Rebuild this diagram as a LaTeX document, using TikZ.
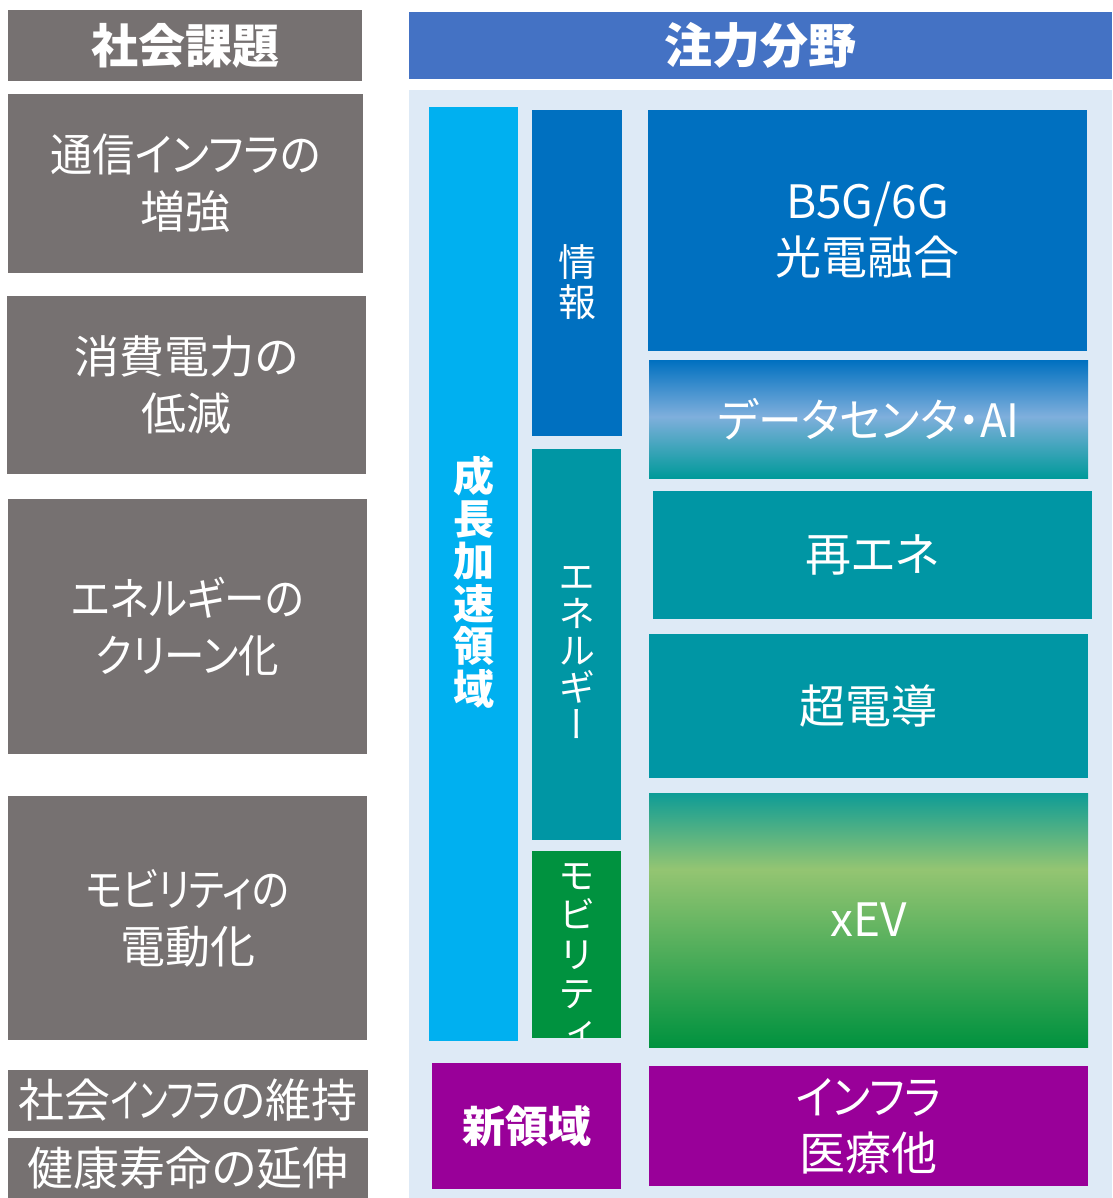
\documentclass[tikz,border=0pt]{standalone}
\usepackage{fontspec}
\usepackage{graphicx}
\usetikzlibrary{fit}
\newfontfamily\jp[RawFeature=+palt]{Noto Sans CJK JP}
\newfontfamily\jpv[RawFeature=+vert]{Noto Sans CJK JP}
\newcommand{\sx}[2]{\scalebox{#1}[1]{#2}}
\definecolor{grayc}{HTML}{767171}
\definecolor{headblue}{HTML}{4472C4}
\definecolor{panel}{HTML}{DEEAF6}
\definecolor{cyanc}{HTML}{00B0F0}
\definecolor{bluec}{HTML}{0070C0}
\definecolor{tealc}{HTML}{0096A4}
\definecolor{greenc}{HTML}{00923F}
\definecolor{purplec}{HTML}{990099}
\definecolor{dcmid}{HTML}{7FAFDC}
\definecolor{dcbot}{HTML}{009A9A}
\definecolor{evtop}{HTML}{0E9C96}
\definecolor{evmid}{HTML}{94C572}
\pgfdeclareverticalshading{dcshade}{100bp}{color(0bp)=(dcbot); color(25bp)=(dcbot); color(51bp)=(dcmid); color(75bp)=(bluec); color(100bp)=(bluec)}
\pgfdeclareverticalshading{evshade}{100bp}{color(0bp)=(greenc); color(25bp)=(greenc); color(60bp)=(evmid); color(75bp)=(evtop); color(100bp)=(evtop)}
\tikzset{
  box/.style={inner sep=0pt, outer sep=0pt, draw=none, text=white, align=center},
  gbox/.style={box, fill=grayc},
  txt/.style={text=white, align=center, inner sep=0pt, font=\jp\fontsize{45}{57}\selectfont},
  btxt/.style={text=white, align=center, inner sep=0pt, font=\jp\bfseries\fontsize{47}{52}\selectfont},
  vtxt/.style={text=white, align=center, inner sep=0pt, font=\jpv\fontsize{37}{37}\selectfont},
}
\begin{document}
\begin{tikzpicture}[x=1pt,y=-1pt]
\useasboundingbox (0,0) rectangle (1112,1198);
% left column
\node[gbox, fit={(8,10)(362,81)}] (h1) {};
\node[btxt] (h1t) at (h1) {社会課題};
\node[gbox, fit={(8,94)(363,273)}] (l1) {};
\node[txt] (l1t) at (l1) {\sx{0.94}{通信インフラの}\\増強};
\node[gbox, fit={(7,296)(366,474)}] (l2) {};
\node[txt] (l2t) at (l2) {消費電力の\\低減};
\node[gbox, fit={(8,499)(367,754)}] (l3) {};
\node[txt] (l3t) at (l3) {\sx{0.9}{エネルギーの}\\\sx{0.9}{クリーン化}};
\node[gbox, fit={(8,796)(367,1040)}] (l4) {};
\node[txt] (l4t) at (l4) {\sx{0.86}{モビリティの}\\電動化};
\node[gbox, fit={(8,1070)(368,1131)}] (l5) {};
\node[txt, font=\jp\fontsize{46}{50}\selectfont] (l5t) at (l5) {社会\sx{0.7}{インフラ}の維持};
\node[gbox, fit={(8,1138)(368,1198)}] (l6) {};
\node[txt, font=\jp\fontsize{46}{50}\selectfont] (l6t) at (l6) {健康寿命の延伸};
% right column
\node[box, fill=headblue, fit={(409,12)(1112,79)}] (h2) {};
\node[btxt, font=\jp\bfseries\fontsize{48}{52}\selectfont] (h2t) at (h2) {注力分野};
\node[box, fill=panel, fit={(409,90)(1112,1198)}] (panel) {};
\node[box, fill=cyanc, fit={(429,107)(518,1041)}] (grow) {};
\node[vtxt, font=\jp\bfseries\fontsize{41}{42.5}\selectfont] (growt) at ([yshift=-8]grow.center) {成\\長\\加\\速\\領\\域};
\node[box, fill=bluec, fit={(532,110)(622,436)}] (info) {};
\node[vtxt, font=\jpv\fontsize{38}{40}\selectfont] (infot) at ([yshift=-9]info.center) {情\\報};
\node[box, fill=tealc, fit={(532,449)(621,840)}] (ene) {};
\node[vtxt] (enet) at ([yshift=-8]ene.center) {エ\\ネ\\ル\\ギ\\ー};
\node[box, fill=greenc, fit={(532,851)(621,1038)}] (mob) {};
\begin{scope}
\clip (mob.north west) rectangle (mob.south east);
\node[vtxt, anchor=north, font=\jpv\fontsize{37}{39.5}\selectfont] (mobt) at ([yshift=-12]mob.north) {モ\\ビ\\リ\\テ\\ィ};
\end{scope}
\node[box, fill=purplec, fit={(432,1063)(621,1189)}] (newf) {};
\node[btxt, font=\jp\bfseries\fontsize{43}{50}\selectfont] (newft) at (newf) {新領域};
\node[box, fill=bluec, fit={(648,110)(1087,351)}] (b5g) {};
\node[txt, font=\jp\fontsize{46}{56}\selectfont] (b5gt) at (b5g) {B5G/6G\\光電融合};
\node[box, shade, shading=dcshade, fit={(649,360)(1088,478)}] (dc) {};
\node[txt, font=\jp\fontsize{46}{56}\selectfont] (dct) at (dc) {\sx{0.95}{データセンタ・AI}};
\node[box, fill=tealc, fit={(653,491)(1092,619)}] (re) {};
\node[txt, font=\jp\fontsize{46}{56}\selectfont] (ret) at (re) {再エネ};
\node[box, fill=tealc, fit={(649,634)(1088,778)}] (sc) {};
\node[txt, font=\jp\fontsize{46}{56}\selectfont] (sct) at (sc) {超電導};
\node[box, shade, shading=evshade, fit={(649,793)(1088,1047)}] (xev) {};
\node[txt, font=\jp\fontsize{46}{56}\selectfont] (xevt) at (xev) {xEV};
\node[box, fill=purplec, fit={(649,1066)(1088,1186)}] (inf) {};
\node[txt, font=\jp\fontsize{46}{56}\selectfont] (inft) at (inf) {\sx{0.92}{インフラ}\\医療他};
\end{tikzpicture}
\end{document}
